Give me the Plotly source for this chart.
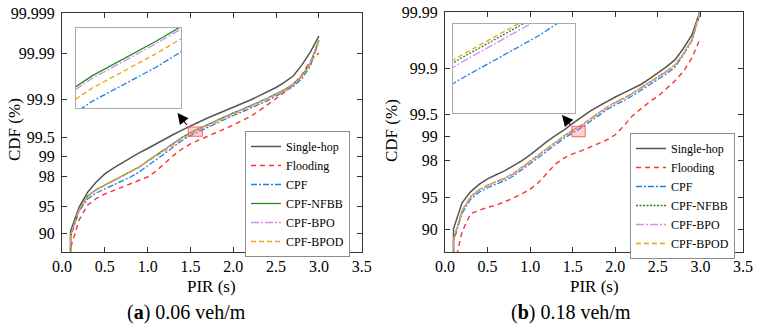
import plotly.graph_objects as go
from statistics import NormalDist

_nd = NormalDist()


def z(p):
    return _nd.inv_cdf(p / 100.0)


# ---------------- data (CDF in %) ----------------
PIR = [0.1, 0.1, 0.2, 0.3, 0.4, 0.5, 0.6, 0.7, 0.8, 0.9, 1.0, 1.1, 1.2, 1.3, 1.4, 1.5,
       1.6, 1.7, 1.8, 1.9, 2.0, 2.1, 2.2, 2.3, 2.4, 2.5, 2.6, 2.7, 2.8, 2.9, 3.0]

# (a) 0.06 veh/m
single_a = [50.0, 90.5, 94.9, 96.7, 97.6, 98.15, 98.48, 98.73, 98.93, 99.11, 99.245, 99.37, 99.47, 99.56, 99.63,
            99.69, 99.736, 99.776, 99.807, 99.835, 99.858, 99.879, 99.899, 99.916, 99.930, 99.9435, 99.9566,
            99.9677, 99.9814, 99.9906, 99.9961]
flooding_a = [50.0, 86.0, 92.81, 95.20, 96.02, 96.515, 96.86, 97.18, 97.44, 97.74, 97.95, 98.32, 98.72, 99.02, 99.23,
              99.363, 99.454, 99.524, 99.585, 99.647, 99.700, 99.746, 99.790, 99.835, 99.873, 99.9055, 99.930,
              99.9499, 99.9693, 99.9850, 99.99015]
cpf_a = [50.0, 89.1, 94.33, 95.96, 96.62, 97.0, 97.35, 97.63, 97.95, 98.26, 98.58, 98.87, 99.09, 99.286, 99.443,
         99.542, 99.609, 99.675, 99.724, 99.762, 99.799, 99.827, 99.852, 99.876, 99.896, 99.916, 99.932, 99.946,
         99.9626, 99.9805, 99.9946]
nfbb_a = [50.0, 89.6, 94.64, 96.30, 96.96, 97.35, 97.71, 97.98, 98.26, 98.535, 98.81, 99.04, 99.216, 99.375, 99.504,
          99.593, 99.654, 99.706, 99.751, 99.786, 99.820, 99.845, 99.867, 99.889, 99.9075, 99.9232, 99.9378,
          99.9522, 99.9677, 99.9833, 99.99517]
bpo_a = [50.0, 89.55, 94.60, 96.27, 96.93, 97.33, 97.69, 97.96, 98.24, 98.52, 98.80, 99.03, 99.207, 99.368, 99.498,
         99.588, 99.650, 99.702, 99.748, 99.783, 99.818, 99.843, 99.865, 99.8875, 99.9062, 99.9222, 99.9369,
         99.9515, 99.9672, 99.9831, 99.99512]
bpod_a = [50.0, 89.48, 94.57, 96.25, 96.91, 97.31, 97.67, 97.95, 98.23, 98.51, 98.79, 98.99, 99.173, 99.339, 99.475,
          99.569, 99.633, 99.688, 99.735, 99.772, 99.808, 99.838, 99.861, 99.884, 99.9032, 99.9197, 99.9348,
          99.9499, 99.9661, 99.9825, 99.9949]

# (b) 0.18 veh/m
single_b = [50.0, 90.2, 94.33, 95.60, 96.33, 96.80, 97.11, 97.39, 97.71, 98.00, 98.30, 98.60, 98.84, 99.03, 99.18,
            99.33, 99.445, 99.543, 99.612, 99.672, 99.718, 99.755, 99.791, 99.818, 99.851, 99.880, 99.9046, 99.927,
            99.9535, 99.9732, 99.99085]
flooding_b = [50.0, 80.0, 89.6, 92.79, 93.31, 93.74, 94.01, 94.46, 94.89, 95.39, 95.86, 96.51, 97.25, 97.83, 98.15,
              98.35, 98.48, 98.62, 98.755, 98.89, 99.05, 99.275, 99.471, 99.585, 99.666, 99.723, 99.787, 99.840,
              99.887, 99.9324, 99.9696]
cpf_b = [50.0, 87.45, 92.87, 94.77, 95.56, 96.01, 96.34, 96.64, 97.00, 97.43, 97.83, 98.18, 98.48, 98.74, 98.944,
         99.104, 99.231, 99.361, 99.472, 99.566, 99.632, 99.679, 99.729, 99.776, 99.816, 99.846, 99.876, 99.9035,
         99.940, 99.9657, 99.9900]
nfbb_b = [50.0, 87.9, 93.24, 95.06, 95.81, 96.24, 96.55, 96.84, 97.18, 97.585, 97.97, 98.30, 98.584, 98.826, 99.017,
          99.167, 99.286, 99.408, 99.512, 99.599, 99.661, 99.704, 99.751, 99.794, 99.831, 99.859, 99.887, 99.9115,
          99.9422, 99.967, 99.99085]
bpo_b = [50.0, 87.79, 93.17, 95.00, 95.76, 96.19, 96.51, 96.80, 97.14, 97.55, 97.94, 98.28, 98.564, 98.809, 99.002,
         99.154, 99.275, 99.399, 99.504, 99.592, 99.655, 99.699, 99.747, 99.790, 99.828, 99.856, 99.885, 99.910,
         99.941, 99.9663, 99.9907]
bpod_b = [50.0, 87.97, 93.28, 95.09, 95.84, 96.27, 96.58, 96.86, 97.20, 97.60, 97.99, 98.31, 98.596, 98.836, 99.026,
          99.175, 99.293, 99.414, 99.517, 99.603, 99.665, 99.707, 99.754, 99.796, 99.833, 99.861, 99.888, 99.9125,
          99.9429, 99.9674, 99.9909]

SERIES = ["Single-hop", "Flooding", "CPF", "CPF-NFBB", "CPF-BPO", "CPF-BPOD"]
Y_TICKS_A = [90, 95, 98, 99, 99.5, 99.9, 99.99, 99.999]
Y_TICKS_B = [90, 95, 98, 99, 99.5, 99.9, 99.99]
X_TICKS = [0.0, 0.5, 1.0, 1.5, 2.0, 2.5, 3.0, 3.5]
Y_RANGE_A = [84.9, 99.999]
Y_RANGE_B = [85.0, 99.99]
# zoomed regions shown in the insets
ZOOM_A_X = [1.475, 1.639]
ZOOM_A_Y = [99.528, 99.675]
ZOOM_B_X = [1.49, 1.647]
ZOOM_B_Y = [98.991, 99.263]

# ---------------- styles ----------------
FONT = "Liberation Serif, Times New Roman, serif"
W, H = 758, 326
STY_A = [
    dict(color="#555555", width=1.5, dash="solid"),
    dict(color="#ff3030", width=1.4, dash="5px,4px"),
    dict(color="#1f7fe8", width=1.3, dash="6px,2px,2px,2px"),
    dict(color="#1e8c1e", width=1.3, dash="solid"),
    dict(color="#d58af0", width=1.3, dash="8px,2px,2px,2px"),
    dict(color="#f0a010", width=1.3, dash="5px,3px"),
]
STY_B = [dict(s) for s in STY_A]
STY_B[3] = dict(color="#1e8c1e", width=1.3, dash="2px,1.5px")

fig = go.Figure()


def add_panel(data, styles, xa, ya, xi, yi, legend):
    for name, vals, st in zip(SERIES, data, styles):
        zz = [z(v) for v in vals]
        fig.add_trace(go.Scatter(x=PIR, y=zz, mode="lines", name=name, line=st,
                                 xaxis=xa, yaxis=ya, legend=legend, hoverinfo="skip"))
    for name, vals, st in zip(SERIES, data, styles):
        zz = [z(v) for v in vals]
        fig.add_trace(go.Scatter(x=PIR, y=zz, mode="lines", name=name, line=st,
                                 xaxis=xi, yaxis=yi, showlegend=False, hoverinfo="skip"))


add_panel([single_a, flooding_a, cpf_a, nfbb_a, bpo_a, bpod_a], STY_A, "x", "y", "x3", "y3", "legend")
add_panel([single_b, flooding_b, cpf_b, nfbb_b, bpo_b, bpod_b], STY_B, "x2", "y2", "x4", "y4", "legend2")


def px_x(p):
    return p / W


def px_y(p):
    return (H - p) / H


main_ax = dict(showline=True, linecolor="#333333", linewidth=1.2, mirror="allticks", ticks="inside",
               ticklen=5, tickwidth=1, tickcolor="#333333", showgrid=False, zeroline=False,
               automargin=False, tickfont=dict(family=FONT, size=16, color="black"))
inset_ax = dict(showline=True, linecolor="#aaaaaa", linewidth=1.2, mirror=True, ticks="",
                showticklabels=False, showgrid=False, zeroline=False, automargin=False)

layout = dict(
    width=W, height=H, margin=dict(l=0, r=0, t=0, b=0, autoexpand=False),
    paper_bgcolor="white", plot_bgcolor="white",
    font=dict(family=FONT, color="black"),
    xaxis=dict(main_ax, domain=[px_x(62), px_x(361.7)], range=[0, 3.5], tickvals=X_TICKS,
               tickformat=".1f", anchor="y"),
    yaxis=dict(main_ax, domain=[px_y(251.7), px_y(13)], range=[z(v) for v in Y_RANGE_A],
               tickvals=[z(v) for v in Y_TICKS_A], ticktext=[str(v) for v in Y_TICKS_A], anchor="x",
               ticklabelstandoff=3),
    xaxis2=dict(main_ax, domain=[px_x(445), px_x(743)], range=[0, 3.5], tickvals=X_TICKS,
                tickformat=".1f", anchor="y2"),
    yaxis2=dict(main_ax, domain=[px_y(251.7), px_y(12)], range=[z(v) for v in Y_RANGE_B],
                tickvals=[z(v) for v in Y_TICKS_B], ticktext=[str(v) for v in Y_TICKS_B], anchor="x2",
                ticklabelstandoff=3),
    xaxis3=dict(inset_ax, domain=[px_x(76), px_x(181)], range=ZOOM_A_X, anchor="y3"),
    yaxis3=dict(inset_ax, domain=[px_y(108), px_y(28)], range=[z(v) for v in ZOOM_A_Y], anchor="x3"),
    xaxis4=dict(inset_ax, domain=[px_x(453.3), px_x(575)], range=ZOOM_B_X, anchor="y4"),
    yaxis4=dict(inset_ax, domain=[px_y(112.7), px_y(24)], range=[z(v) for v in ZOOM_B_Y], anchor="x4"),
    legend=dict(x=px_x(350), xanchor="right", y=px_y(131), yanchor="top", bgcolor="white",
                bordercolor="#8c8c8c", borderwidth=1, font=dict(family=FONT, size=12), tracegroupgap=0),
    legend2=dict(x=px_x(735), xanchor="right", y=px_y(133), yanchor="top", bgcolor="white",
                 bordercolor="#8c8c8c", borderwidth=1, font=dict(family=FONT, size=12), tracegroupgap=0),
    showlegend=True,
)
fig.update_layout(**layout)

# highlighted zoom regions
for xr, yr, xref, yref in [(ZOOM_A_X, ZOOM_A_Y, "x", "y"), (ZOOM_B_X, ZOOM_B_Y, "x2", "y2")]:
    fig.add_shape(type="rect", xref=xref, yref=yref, x0=xr[0], x1=xr[1], y0=z(yr[0]), y1=z(yr[1]),
                  fillcolor="rgba(255,120,120,0.35)", line=dict(color="rgba(235,80,80,0.85)", width=1))

# arrows from zoom regions to insets
fig.add_annotation(x=px_x(177.5), y=px_y(113), xref="paper", yref="paper", ax=10.5, ay=13.5,
                   showarrow=True, arrowhead=2, arrowsize=2, arrowwidth=1.1, arrowcolor="black", text="")
fig.add_annotation(x=px_x(562), y=px_y(115), xref="paper", yref="paper", ax=9.7, ay=11.5,
                   showarrow=True, arrowhead=2, arrowsize=2, arrowwidth=1.1, arrowcolor="black", text="")

# axis titles
ann = dict(xref="paper", yref="paper", showarrow=False, xanchor="center", yanchor="middle")
for xc, yc in [(14, 130), (391, 131)]:
    fig.add_annotation(x=px_x(xc), y=px_y(yc), text="CDF (%)", textangle=-90,
                       font=dict(family=FONT, size=17), **ann)
for xc in [211.8, 594]:
    fig.add_annotation(x=px_x(xc), y=px_y(286), text="PIR (s)", font=dict(family=FONT, size=17), **ann)

# captions
fig.add_annotation(x=px_x(186.7), y=px_y(312), text="(<b>a</b>) 0.06 veh/m",
                   font=dict(family=FONT, size=20), **ann)
fig.add_annotation(x=px_x(570.8), y=px_y(312), text="(<b>b</b>) 0.18 veh/m",
                   font=dict(family=FONT, size=20), **ann)

fig.write_html("out.html")
